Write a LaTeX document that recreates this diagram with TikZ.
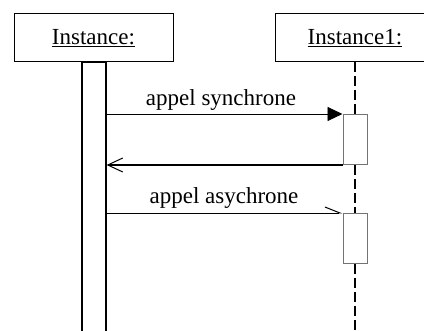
\documentclass[tikz,border=0pt]{standalone}
\usepackage{fontspec}
\setmainfont{Liberation Serif}
\usetikzlibrary{arrows.meta}
\begin{document}
\begin{tikzpicture}[x=1pt,y=-1pt,
  objbox/.style={draw, line width=1pt, minimum width=159pt, minimum height=48pt, inner sep=0pt, font=\fontsize{23}{26}\selectfont},
  actbox/.style={draw=black!55, line width=1pt, minimum width=24pt, minimum height=50pt, inner sep=0pt, fill=white, anchor=north},
  lifeline/.style={line width=1.8pt, dash pattern=on 10pt off 4pt},
  msg/.style={line width=0.9pt},
  lbl/.style={font=\fontsize{23}{26}\selectfont, inner sep=0pt, anchor=base}]
\useasboundingbox (0,0) rectangle (424,331);
% object headers
\node[objbox] (obj1) at (93.5,38) {\underline{Instance:}};
\node[objbox, minimum width=160pt] (obj2) at (355,38) {\underline{Instance1:}};
% activation bar of the caller
\node[draw, line width=1.2pt, minimum width=24pt, minimum height=300pt, inner sep=0pt, anchor=north] (bar) at (94,62) {};
% activations of the callee
\node[actbox] (act1) at (355,114) {};
\node[actbox] (act2) at (355,213) {};
\coordinate (lifeEnd) at (355,340);
% callee lifeline
\draw[lifeline] (obj2.south) -- (act1.north);
\draw[lifeline] (act1.south) -- (act2.north);
\draw[lifeline] (act2.south) -- (lifeEnd);
% messages
\draw[msg, -{Triangle[length=15pt,width=14pt]}] (bar.east |- act1.north) -- (act1.north west);
\draw[line width=1.6pt, -{Straight Barb[length=15pt,width=14pt,line width=1pt]}] (act1.south west) -- (bar.east |- act1.south);
\draw[msg, -{Straight Barb[left,length=15pt,width=12pt,line width=1pt]}] (bar.east |- act2.north) -- (act2.north west);
% message labels
\node[lbl] (m1) at (221,106) {appel synchrone};
\node[lbl] (m2) at (224,204) {appel asychrone};
\end{tikzpicture}
\end{document}
